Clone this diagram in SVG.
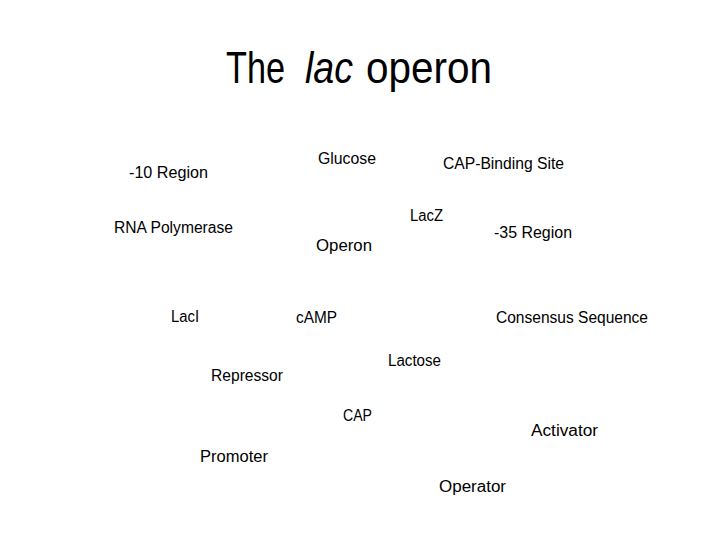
<svg xmlns="http://www.w3.org/2000/svg" width="720" height="540" viewBox="0 0 720 540">
<style>
text { font-family: "Liberation Sans", "Open Sans", sans-serif; fill: #000; }
.t { font-size: 44px; }
.l { font-size: 16px; }
</style>
<rect width="720" height="540" fill="#fff"/>
<g id="title">
<text class="t" x="226" y="83" textLength="59" lengthAdjust="spacingAndGlyphs">The</text>
<text class="t" x="305" y="83" textLength="48" lengthAdjust="spacingAndGlyphs" font-style="italic">lac</text>
<text class="t" x="366" y="83" textLength="126" lengthAdjust="spacingAndGlyphs">operon</text>
</g>
<g id="n-10region"><text class="l" x="129" y="178" textLength="79" lengthAdjust="spacingAndGlyphs">-10 Region</text></g>
<g id="n-glucose"><text class="l" x="318" y="164" textLength="58" lengthAdjust="spacingAndGlyphs">Glucose</text></g>
<g id="n-capsite"><text class="l" x="443" y="169" textLength="121" lengthAdjust="spacingAndGlyphs">CAP-Binding Site</text></g>
<g id="n-rnapol"><text class="l" x="114" y="233" textLength="119" lengthAdjust="spacingAndGlyphs">RNA Polymerase</text></g>
<g id="n-lacz"><text class="l" x="410" y="221" textLength="33" lengthAdjust="spacingAndGlyphs">LacZ</text></g>
<g id="n-35region"><text class="l" x="494" y="238" textLength="78" lengthAdjust="spacingAndGlyphs">-35 Region</text></g>
<g id="n-operon"><text class="l" x="316" y="251" textLength="56" lengthAdjust="spacingAndGlyphs">Operon</text></g>
<g id="n-laci"><text class="l" x="171" y="322" textLength="28" lengthAdjust="spacingAndGlyphs">LacI</text></g>
<g id="n-camp"><text class="l" x="296" y="323" textLength="41" lengthAdjust="spacingAndGlyphs">cAMP</text></g>
<g id="n-consensus"><text class="l" x="496" y="323" textLength="152" lengthAdjust="spacingAndGlyphs">Consensus Sequence</text></g>
<g id="n-lactose"><text class="l" x="388" y="366" textLength="53" lengthAdjust="spacingAndGlyphs">Lactose</text></g>
<g id="n-repressor"><text class="l" x="211" y="381" textLength="72" lengthAdjust="spacingAndGlyphs">Repressor</text></g>
<g id="n-cap"><text class="l" x="343" y="421" textLength="29" lengthAdjust="spacingAndGlyphs">CAP</text></g>
<g id="n-activator"><text class="l" x="531" y="436" textLength="67" lengthAdjust="spacingAndGlyphs">Activator</text></g>
<g id="n-promoter"><text class="l" x="200" y="462" textLength="68" lengthAdjust="spacingAndGlyphs">Promoter</text></g>
<g id="n-operator"><text class="l" x="439" y="492" textLength="67" lengthAdjust="spacingAndGlyphs">Operator</text></g>
<g id="connectors"/>
</svg>
